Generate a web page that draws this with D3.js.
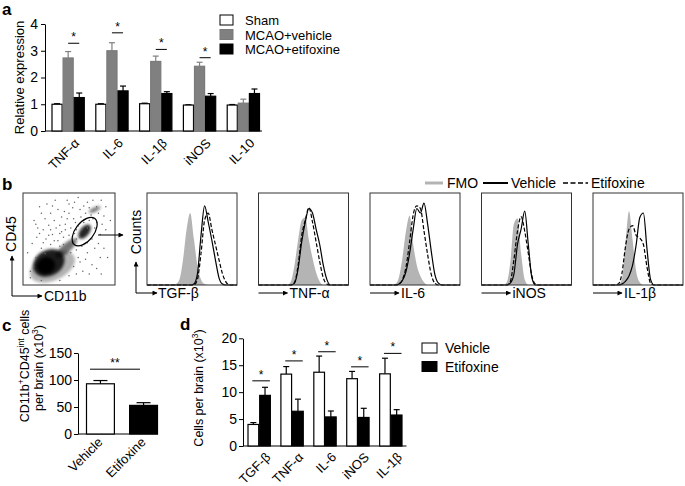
<!DOCTYPE html>
<html>
<head>
<meta charset="utf-8">
<script src="https://cdn.jsdelivr.net/npm/d3@7"></script>
<style>
body { margin: 0; background: #fff; }
text { font-family: "Liberation Sans", Arial, sans-serif; fill: #000; }
</style>
</head>
<body>
<svg id="fig" width="685" height="486"></svg>
<script>
// ---- panel a: qPCR relative expression
let genesA = ['TNF-α', 'IL-6', 'IL-1β', 'iNOS', 'IL-10']
let groupsA = ['Sham', 'MCAO+vehicle', 'MCAO+etifoxine']
let shamA = [1.0, 1.0, 1.02, 0.97, 0.97]
let shamErrA = [0.02, 0.02, 0.02, 0.01, 0.02]
let vehicleA = [2.73, 3.0, 2.6, 2.42, 1.04]
let vehicleErrA = [0.24, 0.3, 0.2, 0.15, 0.15]
let etifoxineA = [1.25, 1.5, 1.4, 1.3, 1.4]
let etifoxineErrA = [0.17, 0.18, 0.07, 0.1, 0.17]
let sigA = [3.28, 3.67, 3.05, 2.74, null]
let ticksA = [0, 1, 2, 3, 4]

// ---- panel b: flow cytometry histograms (counts, % of max, per bin)
let histMarkers = ['TGF-β', 'TNF-α', 'IL-6', 'iNOS', 'IL-1β']
let histBins = [0, 4, 8, 12, 16, 20, 24, 28, 32, 36, 40, 44, 48, 52, 56, 60, 64, 68, 72, 76, 80, 84, 88, 92, 96, 100]
let fmoCounts = [
    [0,0,0,0,0,0,0,0,1,6,28,62,80,52,22,6,1,0,0,0,0,0,0,0,0,0],
    [0,0,0,0,0,0,0,0,0,4,22,50,72,75,50,30,14,4,0,0,0,0,0,0,0,0],
    [0,0,0,0,0,0,0,1,8,30,60,77,45,22,10,3,0,0,0,0,0,0,0,0,0,0],
    [0,0,0,0,0,0,0,3,25,68,74,35,6,0,0,0,0,0,0,0,0,0,0,0,0,0],
    [0,0,0,0,0,0,0,0,6,45,82,50,15,3,0,0,0,0,0,0,0,0,0,0,0,0]
]
let vehicleCounts = [
    [0,0,0,0,0,0,0,0,0,0,0,0,0,1,12,55,88,70,50,28,8,1,0,0,0,0],
    [0,0,0,0,0,0,0,0,0,0,2,18,48,70,85,80,62,45,22,6,0,0,0,0,0,0],
    [0,0,0,0,0,0,0,0,1,5,15,35,62,85,80,91,68,38,12,2,0,0,0,0,0,0],
    [0,0,0,0,0,0,0,0,2,12,45,62,82,45,8,0,0,0,0,0,0,0,0,0,0,0],
    [0,0,0,0,0,0,0,0,1,4,10,22,45,75,80,40,6,0,0,0,0,0,0,0,0,0]
]
let etifoxineCounts = [
    [0,0,0,0,0,0,0,0,0,0,0,0,0,0,6,35,72,80,62,45,28,12,3,0,0,0],
    [0,0,0,0,0,0,0,0,0,0,3,22,55,72,86,70,48,26,8,1,0,0,0,0,0,0],
    [0,0,0,0,0,0,0,0,1,6,20,48,78,88,85,60,34,12,2,0,0,0,0,0,0,0],
    [0,0,0,0,0,0,0,0,4,28,60,76,60,35,10,1,0,0,0,0,0,0,0,0,0,0],
    [0,0,0,0,0,0,0,1,12,42,62,66,55,52,45,20,2,0,0,0,0,0,0,0,0,0]
]
// dot plot: dense clouds [CD11b, CD45, rx, ry, angle, opacity] and loose events
let dotClouds = [
    [32, 20, 26, 15, 25, 0.3],
    [28, 24, 18, 14, 30, 0.85],
    [25, 21, 10, 9, 20, 1],
    [47, 40, 15, 5, 42, 0.55],
    [67, 58, 9, 5, 52, 0.85],
    [78, 82, 7, 2.5, 25, 0.5]
]
let looseEvents = [
    [12,70],[18,85],[22,60],[30,78],[35,92],[40,65],[45,80],[50,88],[55,72],[60,95],
    [62,82],[70,90],[85,92],[88,75],[90,60],[80,68],[75,50],[82,45],[88,40],[92,30],
    [70,35],[60,30],[55,20],[65,15],[75,22],[85,12],[50,10],[40,5],[20,5],[8,15],
    [5,35],[10,45],[15,52],[25,50],[32,55],[38,48],[42,58],[52,62],[58,50],[64,42],
    [72,70],[78,62],[84,55],[48,72],[28,65],[20,40],[14,30],[45,30],[52,35],[58,60],
    [66,68],[74,76],[80,85],[68,78],[36,38],[30,44],[24,34],[62,25],[90,85],[95,70],
    [26,88],[16,62],[44,52],[54,45],[62,52],[70,62],[76,72],[58,38],[8,8],[12,20],
    [34,70],[38,82],[42,74],[46,66],[50,78],[54,84],[57,68],[63,74],[66,86],[72,84],
    [30,60],[36,62],[40,56],[46,60],[50,54],[56,56],[60,64],[64,60],[44,44],[40,42],
    [34,48],[28,54],[22,46],[18,56],[24,72],[32,86],[20,78],[14,66],[48,92],[56,90],
    [76,92],[82,78],[86,66],[70,46],[78,40],[84,30],[68,28],[58,12],[72,12],[80,18]
]
let gate = [67, 58, 18, 10, 52]

// ---- panel c: CD11b+CD45int cells
let groupsC = ['Vehicle', 'Etifoxine']
let cellsC = [93, 53]
let cellsErrC = [6, 5]
let sigC = 120
let ticksC = [0, 50, 100, 150]

// ---- panel d: cytokine-positive cells per brain
let markersD = ['TGF-β', 'TNF-α', 'IL-6', 'iNOS', 'IL-1β']
let groupsD = ['Vehicle', 'Etifoxine']
let vehicleD = [4.0, 13.35, 13.7, 12.5, 13.4]
let vehicleErrD = [0.35, 1.4, 3.0, 1.35, 2.9]
let etifoxineD = [9.4, 6.45, 5.4, 5.3, 5.75]
let etifoxineErrD = [1.5, 2.25, 1.1, 1.7, 1.0]
let sigD = [12.1, 15.8, 17.5, 14.7, 17.2]
let ticksD = [0, 5, 10, 15, 20]

let font = '"Liberation Sans", Arial, sans-serif'
let svg = d3.select('#fig')
svg.append('rect').attr('width', 685).attr('height', 486).attr('fill', '#fff')

let defs = svg.append('defs')
defs.append('marker')
    .attr('id', 'arrow')
    .attr('viewBox', '0 0 10 10')
    .attr('refX', 9).attr('refY', 5)
    .attr('markerWidth', 6).attr('markerHeight', 5)
    .attr('markerUnits', 'userSpaceOnUse')
    .attr('orient', 'auto')
    .append('path').attr('d', 'M0,0L10,5L0,10Z').attr('fill', '#000')
defs.append('filter').attr('id', 'blur')
    .attr('x', '-50%').attr('y', '-50%').attr('width', '200%').attr('height', '200%')
    .append('feGaussianBlur').attr('stdDeviation', 1.8)

// panel letters
let letters = [['a', 2, 15], ['b', 2, 190], ['c', 2, 331], ['d', 180, 330]]
svg.selectAll('text.letter')
    .data(letters)
    .enter()
    .append('text')
    .attr('class', 'letter')
    .attr('x', d => d[1])
    .attr('y', d => d[2])
    .style('font-size', '17px')
    .style('font-weight', 'bold')
    .text(d => d[0])

function styleAxis(g, size) {
    g.attr('font-family', font).attr('font-size', size)
    g.selectAll('path, line').attr('stroke', '#000')
    g.selectAll('text').attr('fill', '#000')
}

function arrowLine(g, x1, y1, x2, y2) {
    g.append('line')
        .attr('x1', x1).attr('y1', y1).attr('x2', x2).attr('y2', y2)
        .attr('stroke', '#000').attr('stroke-width', 1)
        .attr('marker-end', 'url(#arrow)')
}

function drawBars(g, cats, series, x, sub, y) {
    series.forEach(s => {
        let rows = cats.map((c, i) => ({ cat: c, v: s.values[i], e: s.errs[i] }))
        let cx = d => x(d.cat) + sub(s.name) + sub.bandwidth() / 2
        g.selectAll(null)
            .data(rows)
            .enter()
            .append('line')
            .attr('x1', cx).attr('x2', cx)
            .attr('y1', d => y(d.v)).attr('y2', d => y(d.v + d.e))
            .attr('stroke', s.err)
            .attr('stroke-width', 1.2)
        g.selectAll(null)
            .data(rows)
            .enter()
            .append('line')
            .attr('x1', d => cx(d) - 3).attr('x2', d => cx(d) + 3)
            .attr('y1', d => y(d.v + d.e)).attr('y2', d => y(d.v + d.e))
            .attr('stroke', s.err)
            .attr('stroke-width', 1.2)
        g.selectAll(null)
            .data(rows)
            .enter()
            .append('rect')
            .attr('x', d => x(d.cat) + sub(s.name) + 0.5)
            .attr('width', sub.bandwidth() - 1)
            .attr('y', d => y(d.v))
            .attr('height', d => y(0) - y(d.v))
            .attr('fill', s.fill)
            .attr('stroke', s.stroke)
            .attr('stroke-width', 1.2)
    })
}

function starLine(g, x1, x2, yy, label) {
    g.append('line')
        .attr('x1', x1).attr('x2', x2).attr('y1', yy).attr('y2', yy)
        .attr('stroke', '#000').attr('stroke-width', 1)
    g.append('text')
        .attr('x', (x1 + x2) / 2)
        .attr('y', yy - 2)
        .attr('text-anchor', 'middle')
        .style('font-size', '12px')
        .text(label)
}

let intFormat = d3.format('d')

// ================= panel a
let ga = svg.append('g')
let ax = d3.scaleBand().domain(genesA).range([51.5, 260]).paddingInner(0.24)
let asub = d3.scaleBand().domain(groupsA).range([0, ax.bandwidth()])
let ay = d3.scaleLinear().domain([0, 4]).range([131, 24])

ga.append('g')
    .attr('transform', 'translate(45,0)')
    .call(d3.axisLeft(ay).tickValues(ticksA).tickFormat(intFormat).tickSize(4).tickSizeOuter(0).tickPadding(3))
    .call(styleAxis, 14)
ga.append('line')
    .attr('x1', 45).attr('x2', 262).attr('y1', ay(0)).attr('y2', ay(0))
    .attr('stroke', '#000')

let seriesA = [
    { name: groupsA[0], values: shamA, errs: shamErrA, fill: '#fff', stroke: '#000', err: '#000' },
    { name: groupsA[1], values: vehicleA, errs: vehicleErrA, fill: '#808080', stroke: '#7a7a7a', err: '#808080' },
    { name: groupsA[2], values: etifoxineA, errs: etifoxineErrA, fill: '#000', stroke: '#000', err: '#000' }
]
drawBars(ga, genesA, seriesA, ax, asub, ay)

genesA.forEach((c, i) => {
    if (sigA[i] == null) return
    let x1 = ax(c) + asub(groupsA[1]) + asub.bandwidth() / 2
    let x2 = ax(c) + asub(groupsA[2]) + asub.bandwidth() / 2
    starLine(ga, x1, x2, ay(sigA[i]), '*')
})

ga.selectAll('text.xlab')
    .data(genesA)
    .enter()
    .append('text')
    .attr('class', 'xlab')
    .attr('text-anchor', 'end')
    .attr('transform', d => `translate(${ax(d) + ax.bandwidth() / 2 + 12},${ay(0) + 13}) rotate(-45)`)
    .style('font-size', '13px')
    .text(d => d)

ga.append('text')
    .attr('transform', `translate(24,${(ay(0) + ay(4)) / 2}) rotate(-90)`)
    .attr('text-anchor', 'middle')
    .style('font-size', '13px')
    .text('Relative expression')

let legA = ga.selectAll('g.leg')
    .data(seriesA)
    .enter()
    .append('g')
    .attr('transform', (d, i) => `translate(220,${20 + i * 14.5})`)
legA.append('rect')
    .attr('x', 0).attr('y', -5).attr('width', 13).attr('height', 10)
    .attr('fill', d => d.fill).attr('stroke', d => d.stroke)
legA.append('text')
    .attr('x', 25).attr('y', 5)
    .style('font-size', '13px')
    .text(d => d.name)

// ================= panel b: dot plot
let gb = svg.append('g')
let dx = d3.scaleLinear().domain([0, 100]).range([23, 115])
let dy = d3.scaleLinear().domain([0, 100]).range([285, 193])

gb.append('g').attr('filter', 'url(#blur)')
    .selectAll('ellipse')
    .data(dotClouds)
    .enter()
    .append('ellipse')
    .attr('transform', d => `translate(${dx(d[0])},${dy(d[1])}) rotate(${-d[4]})`)
    .attr('rx', d => dx(d[2]) - dx(0))
    .attr('ry', d => dx(d[3]) - dx(0))
    .attr('fill', '#000')
    .attr('fill-opacity', d => d[5])
gb.selectAll('circle.ev')
    .data(looseEvents)
    .enter()
    .append('circle')
    .attr('class', 'ev')
    .attr('cx', d => dx(d[0]))
    .attr('cy', d => dy(d[1]))
    .attr('r', 0.75)
    .attr('fill', '#666')
gb.append('ellipse')
    .attr('transform', `translate(${dx(gate[0])},${dy(gate[1])}) rotate(${-gate[4]})`)
    .attr('rx', dx(gate[2]) - dx(0))
    .attr('ry', dx(gate[3]) - dx(0))
    .attr('fill', 'none')
    .attr('stroke', '#000')
    .attr('stroke-width', 1.2)
gb.append('rect')
    .attr('x', dx(0)).attr('y', dy(100))
    .attr('width', dx(100) - dx(0)).attr('height', dy(0) - dy(100))
    .attr('fill', 'none').attr('stroke', '#333')
arrowLine(gb, 98, 235, 123, 235)
arrowLine(gb, 12, 296, 12, 256)
arrowLine(gb, 12, 296, 42, 296)
gb.append('text')
    .attr('x', 44).attr('y', 301)
    .style('font-size', '14px')
    .text('CD11b')
gb.append('text')
    .attr('transform', 'translate(16,234) rotate(-90)')
    .attr('text-anchor', 'middle')
    .style('font-size', '14px')
    .text('CD45')

// ================= panel b: histograms
let hx = d3.scaleLinear().domain([0, 100]).range([0, 90])
let hy = d3.scaleLinear().domain([0, 100]).range([92, 2])
let hArea = d3.area().x((d, i) => hx(histBins[i])).y0(hy(0)).y1(d => hy(d)).curve(d3.curveMonotoneX)
let hLine = d3.line().x((d, i) => hx(histBins[i])).y(d => hy(d)).curve(d3.curveMonotoneX)
let histLeft = [147, 258.5, 370, 481.5, 593]

histMarkers.forEach((m, k) => {
    let g = svg.append('g').attr('transform', `translate(${histLeft[k]},193)`)
    g.append('path').attr('d', hArea(fmoCounts[k])).attr('fill', '#b4b4b4')
    g.append('path').attr('d', hLine(vehicleCounts[k]))
        .attr('fill', 'none').attr('stroke', '#000').attr('stroke-width', 1.2)
    g.append('path').attr('d', hLine(etifoxineCounts[k]))
        .attr('fill', 'none').attr('stroke', '#000').attr('stroke-width', 1.2)
        .attr('stroke-dasharray', '4,2')
    g.append('rect')
        .attr('width', hx(100)).attr('height', hy(0))
        .attr('fill', 'none').attr('stroke', '#333')
    if (k == 0) {
        arrowLine(svg, 136, 293, 136, 262)
        arrowLine(svg, 136, 293, 157, 293)
        svg.append('text')
            .attr('x', 158).attr('y', 298)
            .style('font-size', '14px')
            .text(m)
        svg.append('text')
            .attr('transform', 'translate(141,232) rotate(-90)')
            .attr('text-anchor', 'middle')
            .style('font-size', '14px')
            .text('Counts')
    } else {
        arrowLine(svg, histLeft[k], 293, histLeft[k] + 29, 293)
        svg.append('text')
            .attr('x', histLeft[k] + 31).attr('y', 298)
            .style('font-size', '14px')
            .text(m)
    }
})

let histLegend = [
    { name: 'FMO', x: 425, stroke: '#b4b4b4', dash: null, w: 3 },
    { name: 'Vehicle', x: 483, stroke: '#000', dash: null, w: 2 },
    { name: 'Etifoxine', x: 563, stroke: '#000', dash: '5,2.5', w: 1.6 }
]
let hl = svg.selectAll('g.hleg')
    .data(histLegend)
    .enter()
    .append('g')
    .attr('transform', d => `translate(${d.x},183)`)
hl.append('line')
    .attr('x1', 0).attr('x2', d => d.name == 'FMO' ? 18 : 25)
    .attr('stroke', d => d.stroke).attr('stroke-width', d => d.w)
    .attr('stroke-dasharray', d => d.dash)
hl.append('text')
    .attr('x', d => d.name == 'FMO' ? 22 : 28).attr('y', 5)
    .style('font-size', '14px')
    .text(d => d.name)

// ================= panel c
let gc = svg.append('g')
let cx = d3.scaleBand().domain(groupsC).range([86, 158]).paddingInner(0.33)
let cy = d3.scaleLinear().domain([0, 150]).range([434, 353])
gc.append('g')
    .attr('transform', 'translate(78,0)')
    .call(d3.axisLeft(cy).tickValues(ticksC).tickFormat(intFormat).tickSize(4).tickSizeOuter(0).tickPadding(2))
    .call(styleAxis, 14)
gc.append('line')
    .attr('x1', 78).attr('x2', 158).attr('y1', cy(0)).attr('y2', cy(0))
    .attr('stroke', '#000')
let cRows = groupsC.map((g, i) => ({ cat: g, v: cellsC[i], e: cellsErrC[i] }))
gc.selectAll('line.err')
    .data(cRows)
    .enter()
    .append('line')
    .attr('x1', d => cx(d.cat) + cx.bandwidth() / 2)
    .attr('x2', d => cx(d.cat) + cx.bandwidth() / 2)
    .attr('y1', d => cy(d.v)).attr('y2', d => cy(d.v + d.e))
    .attr('stroke', '#000').attr('stroke-width', 1.2)
gc.selectAll('line.cap')
    .data(cRows)
    .enter()
    .append('line')
    .attr('x1', d => cx(d.cat) + cx.bandwidth() / 2 - 7)
    .attr('x2', d => cx(d.cat) + cx.bandwidth() / 2 + 7)
    .attr('y1', d => cy(d.v + d.e)).attr('y2', d => cy(d.v + d.e))
    .attr('stroke', '#000').attr('stroke-width', 1.2)
gc.selectAll('rect')
    .data(cRows)
    .enter()
    .append('rect')
    .attr('x', d => cx(d.cat) + 0.5)
    .attr('width', cx.bandwidth() - 1)
    .attr('y', d => cy(d.v))
    .attr('height', d => cy(0) - cy(d.v))
    .attr('fill', (d, i) => i == 0 ? '#fff' : '#000')
    .attr('stroke', '#000').attr('stroke-width', 1.2)
starLine(gc, 90, 140, cy(sigC), '**')
gc.selectAll('text.xlab')
    .data(groupsC)
    .enter()
    .append('text')
    .attr('class', 'xlab')
    .attr('text-anchor', 'end')
    .attr('transform', d => `translate(${cx(d) + cx.bandwidth() / 2 + 3},${cy(0) + 9}) rotate(-45)`)
    .style('font-size', '13px')
    .text(d => d)
let cl1 = gc.append('text')
    .attr('transform', 'translate(29,366) rotate(-90)')
    .attr('text-anchor', 'middle')
    .style('font-size', '12.5px')
cl1.append('tspan').text('CD11b')
cl1.append('tspan').attr('dy', -5).style('font-size', '8.5px').text('+')
cl1.append('tspan').attr('dy', 5).text('CD45')
cl1.append('tspan').attr('dy', -5).style('font-size', '8.5px').text('int')
cl1.append('tspan').attr('dy', 5).text(' cells')
let cl2 = gc.append('text')
    .attr('transform', 'translate(43,368) rotate(-90)')
    .attr('text-anchor', 'middle')
    .style('font-size', '12.5px')
cl2.append('tspan').text('per brain  (x10')
cl2.append('tspan').attr('dy', -5).style('font-size', '8.5px').text('3')
cl2.append('tspan').attr('dy', 5).text(')')

// ================= panel d
let gd = svg.append('g')
let ddx = d3.scaleBand().domain(markersD).range([247.5, 402.5]).paddingInner(0.29)
let dsub = d3.scaleBand().domain(groupsD).range([0, ddx.bandwidth()])
let ddy = d3.scaleLinear().domain([0, 20]).range([446, 338.3])
gd.append('g')
    .attr('transform', 'translate(243,0)')
    .call(d3.axisLeft(ddy).tickValues(ticksD).tickFormat(intFormat).tickSize(4).tickSizeOuter(0).tickPadding(2))
    .call(styleAxis, 14)
gd.append('line')
    .attr('x1', 243).attr('x2', 406.5).attr('y1', ddy(0)).attr('y2', ddy(0))
    .attr('stroke', '#000')
let seriesD = [
    { name: groupsD[0], values: vehicleD, errs: vehicleErrD, fill: '#fff', stroke: '#000', err: '#000' },
    { name: groupsD[1], values: etifoxineD, errs: etifoxineErrD, fill: '#000', stroke: '#000', err: '#000' }
]
drawBars(gd, markersD, seriesD, ddx, dsub, ddy)
markersD.forEach((m, i) => {
    let x1 = ddx(m) + dsub.bandwidth() / 2 - 1
    let x2 = ddx(m) + ddx.bandwidth() - 1
    starLine(gd, x1, x2, ddy(sigD[i]), '*')
})
gd.selectAll('text.xlab')
    .data(markersD)
    .enter()
    .append('text')
    .attr('class', 'xlab')
    .attr('text-anchor', 'end')
    .attr('transform', d => `translate(${ddx(d) + ddx.bandwidth() / 2 + 12},${ddy(0) + 12}) rotate(-45)`)
    .style('font-size', '13px')
    .text(d => d)
let dl = gd.append('text')
    .attr('transform', 'translate(203,388) rotate(-90)')
    .attr('text-anchor', 'middle')
    .style('font-size', '12.5px')
dl.append('tspan').text('Cells per brain (x10')
dl.append('tspan').attr('dy', -5).style('font-size', '8.5px').text('3')
dl.append('tspan').attr('dy', 5).text(')')

let legD = gd.selectAll('g.leg')
    .data(seriesD)
    .enter()
    .append('g')
    .attr('transform', (d, i) => `translate(422,${348 + i * 18.5})`)
legD.append('rect')
    .attr('x', 0).attr('y', -5).attr('width', 15).attr('height', 10)
    .attr('fill', d => d.fill).attr('stroke', d => d.stroke)
legD.append('text')
    .attr('x', 23).attr('y', 5)
    .style('font-size', '14px')
    .text(d => d.name)
</script>
</body>
</html>
